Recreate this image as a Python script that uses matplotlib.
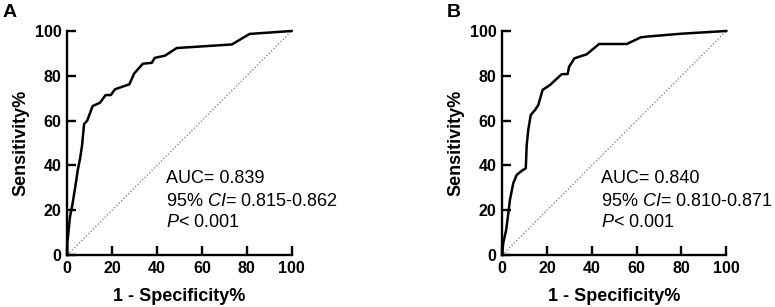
import matplotlib
matplotlib.use('Agg')
import matplotlib.pyplot as plt

plt.rcParams['font.family'] = ['Liberation Sans', 'DejaVu Sans']
plt.rcParams['mathtext.fontset'] = 'custom'
plt.rcParams['mathtext.rm'] = 'Liberation Sans'
plt.rcParams['mathtext.it'] = 'Liberation Sans:italic'

# ROC curve A (1 - specificity %, sensitivity %)
fpr_a = [0, 0, 0.5, 1.2, 2.2, 3.5, 4.7, 5.7, 6.6, 7.5, 8.9, 11.3, 14.6, 17.1,
         19.4, 21.3, 27.7, 29.8, 33.7, 37.7, 39.0, 43.6, 48.8, 73.4, 81.3, 100]
tpr_a = [0, 5, 10, 17, 22, 30, 38, 43, 49, 58.5, 60, 66.5, 68, 71.4,
         71.4, 74, 76.2, 81, 85.4, 85.8, 88, 89, 92.4, 94, 98.7, 100]

# ROC curve B
fpr_b = [0, 0.4, 1.7, 2.7, 3.4, 4.9, 6.4, 8.7, 10.5, 10.9, 11.6, 12.7, 14.6, 16.1,
         18.0, 21.3, 26.5, 29.2, 29.8, 32.2, 37.7, 43.2, 55.6, 61.9, 64.5, 80, 100]
tpr_b = [0, 5.2, 11, 18.6, 24.5, 32, 35.7, 37.6, 38.7, 49, 55.8, 62.5, 64.7, 67,
         73.7, 75.9, 80.7, 80.8, 84, 87.8, 89.6, 94.2, 94.2, 97.2, 97.5, 98.8, 100]

panels = ['A', 'B']
stats = [('0.839', '0.815-0.862', '0.001'), ('0.840', '0.810-0.871', '0.001')]
ticks = [0, 20, 40, 60, 80, 100]

fig = plt.figure(figsize=(7.75, 3.07), dpi=100)
ax_a = fig.add_axes([0.0868, 0.1694, 0.2894, 0.7296])
ax_b = fig.add_axes([0.6481, 0.1694, 0.2890, 0.7296])

for ax, fpr, tpr, letter, st in zip([ax_a, ax_b], [fpr_a, fpr_b], [tpr_a, tpr_b], panels, stats):
    ax.plot([0, 100], [0, 100], color='#777777', linestyle=':', linewidth=0.9, clip_on=False)
    ax.plot(fpr, tpr, color='black', linewidth=1.8, clip_on=False, zorder=3)
    ax.set_xlim(0, 100)
    ax.set_ylim(0, 100)
    ax.set_xticks(ticks)
    ax.set_yticks(ticks)
    for s in ['top', 'right']:
        ax.spines[s].set_visible(False)
    for s in ['left', 'bottom']:
        ax.spines[s].set_linewidth(1.7)
    ax.tick_params(direction='in', length=6.5, width=1.7, labelsize=11.5, pad=4)
    for lab in ax.get_xticklabels() + ax.get_yticklabels():
        lab.set_fontweight('bold')
    ax.set_xlabel('1 - Specificity%', fontsize=13, fontweight='bold', labelpad=9)
    ax.set_ylabel('Sensitivity%', fontsize=13, fontweight='bold', labelpad=4)
    ax.text(44, 34, 'AUC= ' + st[0], fontsize=13, va='center')
    ax.text(44, 24, '95% $\\mathit{CI}$= ' + st[1], fontsize=13, va='center')
    ax.text(44, 14.3, '$\\mathit{P}$< ' + st[2], fontsize=13, va='center')

fig.text(3 / 775, 1 - 4 / 307, 'A', fontsize=14, fontweight='bold', va='top', ha='left')
fig.text(447 / 775, 1 - 4 / 307, 'B', fontsize=14, fontweight='bold', va='top', ha='left')

fig.savefig('out.png', dpi=100)
